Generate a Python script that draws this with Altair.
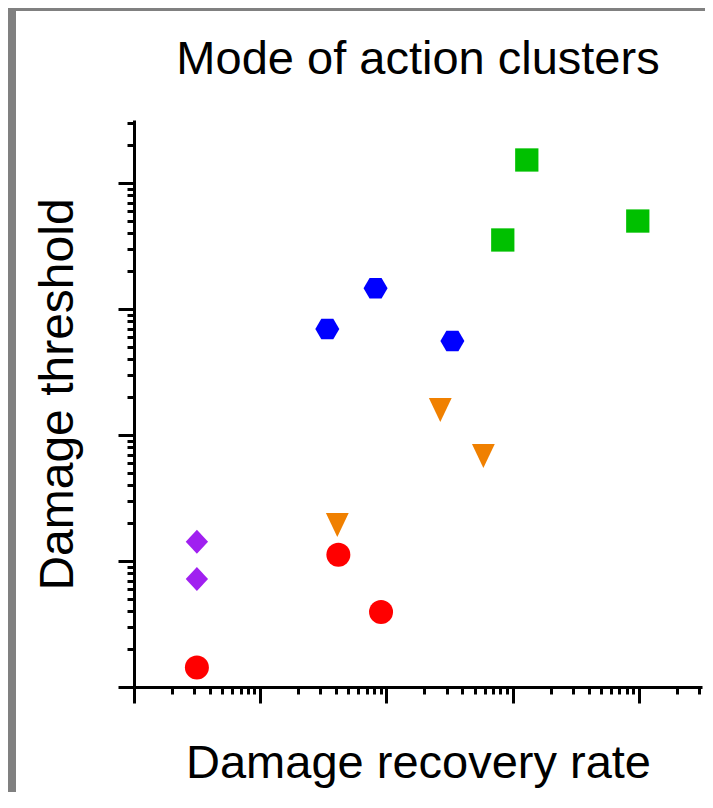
import altair as alt
import pandas as pd

# ---- data (log-log axes, no tick labels) ----
cluster = ["A", "A", "A", "B", "B", "C", "C", "C", "D", "D", "D", "E", "E", "E"]
recovery_rate = [3.15, 41.6, 90.6, 3.15, 3.15, 40.8, 267, 586, 34, 82, 333, 1294, 835, 9800]
damage_threshold = [1.43, 11.2, 3.94, 14.2, 7.2, 19.3, 158, 68, 694, 1460, 557, 15230, 3530, 4990]

cluster_order = ["A", "B", "C", "D", "E"]
cluster_colors = ["#FF0000", "#A020F0", "#F08000", "#0000FF", "#00C000"]
cluster_shapes = [
    "circle",
    "M -0.93 0 L 0 -1 L 0.93 0 L 0 1 Z",                                   # diamond
    "M -0.95 -1 L 0.95 -1 L 0 1 Z",                                         # down triangle
    "M -1 0 L -0.5 -0.86 L 0.5 -0.86 L 1 0 L 0.5 0.86 L -0.5 0.86 Z",       # hexagon
    "M -0.97 -0.97 L 0.97 -0.97 L 0.97 0.97 L -0.97 0.97 Z",               # square
]

major_ticks = [1, 10, 100, 1000, 10000]
minor_ticks = [k * 10 ** d for d in range(5) for k in range(2, 10) if k * 10 ** d <= 31623]
domain_max = 31623

df = pd.DataFrame({"cluster": cluster, "rate": recovery_rate, "threshold": damage_threshold})

FONT = "Liberation Sans"
W, H = 568, 567

xscale = alt.Scale(type="log", domain=[1, domain_max], nice=False)
yscale = alt.Scale(type="log", domain=[1, domain_max], nice=False)

major_x = alt.Axis(values=major_ticks, tickSize=16, tickWidth=3, tickColor="black",
                   domain=True, domainWidth=3, domainColor="black", labels=False, grid=False,
                   orient="bottom", title="Damage recovery rate", titleFont=FONT, titleFontSize=47,
                   titleFontWeight="normal", titleColor="black", titleBaseline="alphabetic",
                   titleX=W / 2, titleY=90, titleAlign="center")
major_y = alt.Axis(values=major_ticks, tickSize=16, tickWidth=3, tickColor="black",
                   domain=True, domainWidth=3, domainColor="black", labels=False, grid=False,
                   orient="left", title="Damage threshold", titleFont=FONT, titleFontSize=48,
                   titleFontWeight="normal", titleColor="black", titleBaseline="alphabetic",
                   titleX=-62, titleY=274, titleAlign="center", titleAngle=270)
minor_x = alt.Axis(values=minor_ticks, tickSize=7, tickWidth=3, tickColor="black",
                   domain=False, labels=False, grid=False, orient="bottom", title="")
minor_y = alt.Axis(values=minor_ticks, tickSize=7, tickWidth=3, tickColor="black",
                   domain=False, labels=False, grid=False, orient="left", title="")

points = alt.Chart(df).mark_point(filled=True, opacity=1, size=576, strokeWidth=0).encode(
    x=alt.X("rate:Q", scale=xscale, axis=major_x),
    y=alt.Y("threshold:Q", scale=yscale, axis=major_y),
    color=alt.Color("cluster:N", scale=alt.Scale(domain=cluster_order, range=cluster_colors), legend=None),
    shape=alt.Shape("cluster:N", scale=alt.Scale(domain=cluster_order, range=cluster_shapes), legend=None),
)

minor = alt.Chart(df).mark_point(opacity=0).encode(
    x=alt.X("rate:Q", scale=xscale, axis=minor_x),
    y=alt.Y("threshold:Q", scale=yscale, axis=minor_y),
)

one = alt.Data(values=[{"f": 1}])
GRAY = "#808080"
frame_left = alt.Chart(one).mark_rect(color=GRAY).encode(
    x=alt.value(-126), x2=alt.value(-118), y=alt.value(-112), y2=alt.value(672))
frame_top = alt.Chart(one).mark_rect(color=GRAY).encode(
    x=alt.value(-126), x2=alt.value(571), y=alt.value(-112), y2=alt.value(-109))

chart = alt.layer(frame_left, frame_top, minor, points).resolve_axis(
    x="independent", y="independent"
).properties(
    width=W, height=H,
    padding={"left": 126, "top": 112, "right": 3, "bottom": 105},
    autosize=alt.AutoSizeParams(type="none"),
    background="white",
    title=alt.TitleParams("Mode of action clusters", font=FONT, fontSize=47, fontWeight="normal",
                          color="black", anchor="middle", baseline="alphabetic", offset=0, dy=113),
).configure_view(strokeWidth=0, stroke="transparent")

chart.save("out.html", embed_options={"renderer": "svg", "actions": False})
